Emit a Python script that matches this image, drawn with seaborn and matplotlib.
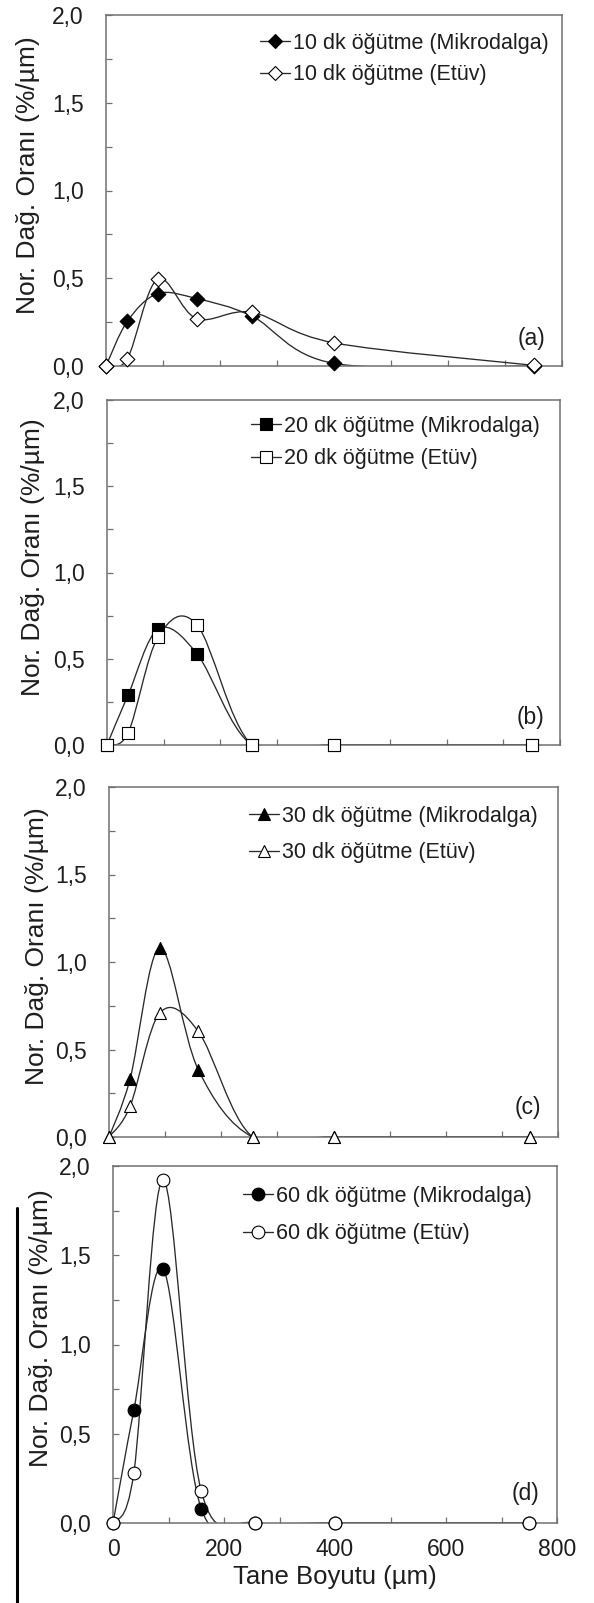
import numpy as np
import pandas as pd
import matplotlib
matplotlib.use("Agg")
import matplotlib.pyplot as plt
import seaborn as sns
from matplotlib.path import Path
from matplotlib.patches import PathPatch
from matplotlib.lines import Line2D
from matplotlib.ticker import MultipleLocator, FuncFormatter

# ---------------- data ----------------
sizes = [0, 37.5, 90.5, 159, 256, 400, 750]

mw10 = [0, 0.255, 0.412, 0.384, 0.284, 0.015, 0.0]
et10 = [0, 0.042, 0.495, 0.270, 0.306, 0.132, 0.004]
mw20 = [0, 0.292, 0.672, 0.528, 0, 0, 0]
et20 = [0, 0.072, 0.628, 0.696, 0, 0, 0]
mw30 = [0, 0.331, 1.080, 0.385, 0, 0, 0]
et30 = [0, 0.175, 0.709, 0.604, 0, 0, 0]
mw60 = [0, 0.631, 1.423, 0.080, 0, 0, 0]
et60 = [0, 0.280, 1.923, 0.179, 0, 0, 0]

durations = ["10", "20", "30", "60"]
panel_labels = ["(a)", "(b)", "(c)", "(d)"]
mw_series = [mw10, mw20, mw30, mw60]
et_series = [et10, et20, et30, et60]
markers = ["D", "s", "^", "o"]
x_ticks = [0, 200, 400, 600, 800]

# ---------------- style ----------------
sns.set_style("white")
plt.rcParams["font.family"] = ["Liberation Sans", "DejaVu Sans"]
plt.rcParams["axes.unicode_minus"] = False

W, H = 594, 1603
fig = plt.figure(figsize=(W / 100, H / 100), dpi=100)

# axes boxes in pixels: left, right, top, bottom
boxes = [(106, 562, 15, 366), (107, 560, 400, 745),
         (109, 558, 787, 1137), (113, 557, 1166, 1523)]
leg_pos = [(0.338, 0.950), (0.318, 0.955), (0.312, 0.947), (0.293, 0.945)]
leg_space = [0.50, 0.55, 0.72, 0.78]
letter_pos = [(0.934, 0.077), (0.934, 0.081), (0.933, 0.083), (0.928, 0.084)]
ylab_x = [-0.145, -0.137, -0.134, -0.135]
msizes = {"D": 56, "s": 72, "^": 74, "o": 84}

LINE = "#2a2a2a"
SPINE = "#707070"


def smooth_path(xs, ys):
    pts = np.column_stack([xs, ys]).astype(float)
    n = len(pts)
    verts = [pts[0]]
    codes = [Path.MOVETO]
    for i in range(n - 1):
        p0 = pts[i - 1] if i > 0 else pts[i]
        p1 = pts[i]
        p2 = pts[i + 1]
        p3 = pts[i + 2] if i + 2 < n else pts[i + 1]
        c1 = p1 + (p2 - p0) / 6.0
        c2 = p2 - (p3 - p1) / 6.0
        verts += [c1, c2, p2]
        codes += [Path.CURVE4] * 3
    return Path(verts, codes)


def fmt_comma(v, pos):
    return f"{v:.1f}".replace(".", ",")


for k in range(4):
    l, r, t, b = boxes[k]
    ax = fig.add_axes([l / W, 1 - b / H, (r - l) / W, (b - t) / H])
    m = markers[k]
    df = pd.DataFrame({"size": sizes, "mw": mw_series[k], "et": et_series[k]})

    # smooth lines
    for col in ["mw", "et"]:
        patch = PathPatch(smooth_path(df["size"], df[col]), facecolor="none",
                          edgecolor=LINE, lw=0.95, zorder=2)
        ax.add_patch(patch)

    # markers
    sns.scatterplot(data=df, x="size", y="mw", marker=m, s=msizes[m],
                    color="black", edgecolor="black", linewidth=0.8,
                    ax=ax, zorder=3, clip_on=False, legend=False)
    sns.scatterplot(data=df, x="size", y="et", marker=m, s=msizes[m],
                    color="white", edgecolor="black", linewidth=0.8,
                    ax=ax, zorder=4, clip_on=False, legend=False)

    ax.set_xlim(0, 800)
    ax.set_ylim(0, 2.0)
    ax.xaxis.set_major_locator(MultipleLocator(200))
    ax.xaxis.set_minor_locator(MultipleLocator(100))
    ax.yaxis.set_major_locator(MultipleLocator(0.5))
    ax.yaxis.set_minor_locator(MultipleLocator(0.25))
    ax.yaxis.set_major_formatter(FuncFormatter(fmt_comma))
    ax.tick_params(axis="both", which="both", direction="in", length=4,
                   width=0.9, color=SPINE, top=False, right=False,
                   left=True, bottom=True)
    ax.tick_params(axis="y", which="major", labelsize=16.5, pad=16,
                   labelcolor="#1e1e1e")
    ax.tick_params(axis="x", which="major", labelsize=16.5, pad=11,
                   labelcolor="#1e1e1e")
    for s in ax.spines.values():
        s.set_color(SPINE)
        s.set_linewidth(1.1)
        s.set_visible(True)

    if k < 3:
        ax.tick_params(axis="x", labelbottom=False)
        ax.set_xlabel("")
    else:
        ax.set_xticks(x_ticks)
        ax.set_xlabel("Tane Boyutu (µm)", fontsize=18.5, color="#1e1e1e",
                      labelpad=3)

    ax.set_ylabel("Nor. Dağ. Oranı (%/µm)", fontsize=19, color="#1e1e1e")
    ax.yaxis.set_label_coords(ylab_x[k], 0.545)

    handles = [
        Line2D([], [], color=LINE, lw=0.95, marker=m, markersize=np.sqrt(msizes[m]),
               markerfacecolor="black", markeredgecolor="black", markeredgewidth=0.8),
        Line2D([], [], color=LINE, lw=0.95, marker=m, markersize=np.sqrt(msizes[m]),
               markerfacecolor="white", markeredgecolor="black", markeredgewidth=0.8),
    ]
    labels = [f"{durations[k]} dk öğütme (Mikrodalga)",
              f"{durations[k]} dk öğütme (Etüv)"]
    leg = ax.legend(handles, labels, loc="upper left",
                    bbox_to_anchor=leg_pos[k], frameon=False,
                    handlelength=1.4, handletextpad=0.12,
                    labelspacing=leg_space[k], borderaxespad=0, borderpad=0,
                    fontsize=15.5, numpoints=1)
    for txt in leg.get_texts():
        txt.set_color("#1e1e1e")

    ax.text(letter_pos[k][0], letter_pos[k][1], panel_labels[k],
            transform=ax.transAxes, ha="center", va="center",
            fontsize=16.5, color="#1e1e1e")

# vertical black rule at the lower left edge of the page
fig.add_artist(Line2D([17 / W, 17 / W], [1 - 1208 / H, 0],
                      transform=fig.transFigure, color="black", lw=2.2))

fig.savefig("out.png", dpi=100)
